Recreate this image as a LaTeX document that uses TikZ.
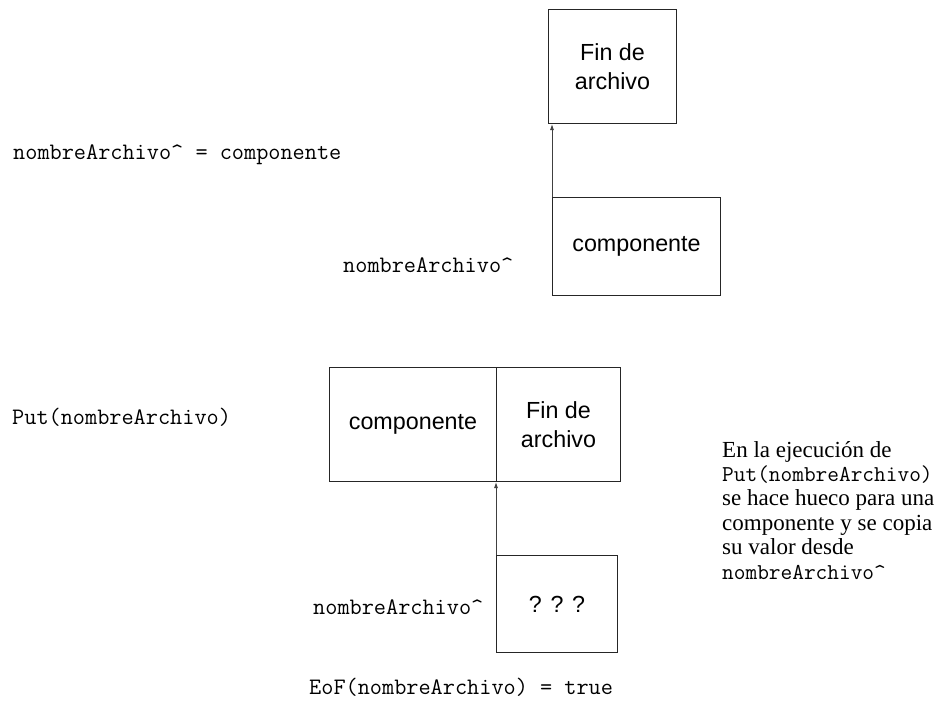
\documentclass[tikz,border=0pt]{standalone}
\usepackage{fontspec}
\newfontfamily\boxfont{Liberation Sans}
\newfontfamily\parafont{Liberation Serif}
\usetikzlibrary{arrows.meta}

\tikzset{
  cell/.style={draw=black!85, line width=1pt, inner sep=0pt, anchor=north west,
               align=center, font=\boxfont\fontsize{23.3}{29}\selectfont},
  code/.style={inner sep=0pt, anchor=west, font=\ttfamily\fontsize{23.6}{28}\selectfont},
  note/.style={inner sep=0pt, anchor=north west, align=left,
               font=\parafont\fontsize{23}{24.4}\selectfont},
  ptr/.style={draw=black!75, line width=0.9pt, -{Latex[length=6pt,width=4pt]}}
}

\begin{document}
\begin{tikzpicture}[x=1pt, y=-1pt]
  \useasboundingbox (0,0) rectangle (943,701);

  % --- state after writing the component ---
  \node[code] (asig) at (13,155) {nombreArchivo\^{} = componente};

  \node[cell, minimum width=128, minimum height=114] (finA) at (548,9) {Fin de\\archivo};
  \node[cell, minimum width=168, minimum height=98] (compA) at (552,197) {componente};
  \node[code] (varA) at (343,265) {nombreArchivo\^{}};
  \draw[ptr] (compA.north west) -- (compA.north west |- finA.south);

  % --- state after Put ---
  \node[code] (put) at (12,417) {Put(nombreArchivo)};

  \node[cell, minimum width=167, minimum height=114] (compB) at (329,367) {componente};
  \node[cell, minimum width=124, minimum height=114] (finB) at (496,367) {Fin de\\archivo};
  \node[cell, minimum width=121, minimum height=97] (buf) at (496,555) {? ? ?};
  \node[code] (varB) at (313,607) {nombreArchivo\^{}};
  \draw[ptr] (buf.north west) -- (buf.north west |- finB.south);

  \node[code] (eof) at (309,687) {EoF(nombreArchivo) = true};

  \node[note] (expl) at (722,441) {En la ejecución de\\
    {\ttfamily\fontsize{22.7}{24.4}\selectfont Put(nombreArchivo)}\\
    se hace hueco para una\\
    componente y se\ copia\\
    su valor desde\\
    {\ttfamily\fontsize{22.7}{24.4}\selectfont nombreArchivo\^{}}};
\end{tikzpicture}
\end{document}
